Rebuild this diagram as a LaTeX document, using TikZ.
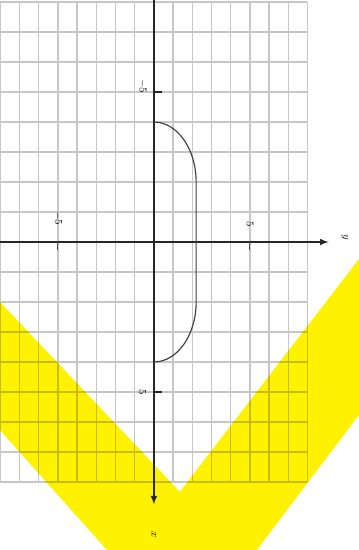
\documentclass[tikz,border=0pt]{standalone}
\begin{document}
\begin{tikzpicture}[x=0.576cm, y=0.9cm,
  gridline/.style={black!22, line width=1.2pt},
  axisline/.style={black!85, line width=1.5pt, -latex},
  ticklab/.style={font=\small, rotate=-90, inner sep=1pt}]
\useasboundingbox (-8.02,-10.27) rectangle (10.68,8.07);
% grid
\foreach \i in {-8,...,8} {
  \draw[gridline] (\i,-8) -- (\i,8);
  \draw[gridline] (-8,\i) -- (8,\i);
}
% yellow band
\begin{scope}[blend mode=multiply]
\fill[yellow] (-8.02,-2.0) -- (1.35,-8.33) -- (10.68,-0.57) -- (10.68,-5.77)
  -- (5.36,-10.27) -- (-2.45,-10.27) -- (-8.02,-6.27) -- cycle;
\end{scope}
% axes
\coordinate (xs) at (-8.02,0);
\coordinate (xe) at (9.1,0);
\coordinate (ys) at (0,8.07);
\coordinate (ye) at (0,-8.75);
\draw[axisline] (xs) -- (xe);
\draw[axisline] (ys) -- (ye);
\node[ticklab] (lx) at (9.95,0.15){$y$};
\node[ticklab] (ly) at (0,-9.75){$x$};
% ticks
\coordinate (t1) at (-5,0);
\coordinate (t2) at (5,0);
\coordinate (t3) at (0,5);
\coordinate (t4) at (0,-5);
\draw[black!70, line width=0.8pt] (t1) -- ++(0,-0.25);
\draw[black!70, line width=0.8pt] (t2) -- ++(0,-0.25);
\draw[black!85, line width=1.2pt] (t3) -- ++(0.42,0);
\draw[black!85, line width=1.2pt] (t4) -- ++(0.42,0);
\node[ticklab] (l1) at (-5,0.8){$-5$};
\node[ticklab] (l2) at (5,0.6){$5$};
\node[ticklab] (l3) at (-0.6,5.2){$-5$};
\node[ticklab] (l4) at (-0.6,-5){$5$};
% curve
\coordinate (c0) at (0,4);
\coordinate (c1) at (2.2,2);
\coordinate (c2) at (2.2,-2);
\coordinate (c3) at (0,-4);
\draw[black!75, line width=1pt] (c0) arc[start angle=90, end angle=0, x radius=2.2, y radius=2]
  -- (c2) arc[start angle=0, end angle=-90, x radius=2.2, y radius=2];
\end{tikzpicture}
\end{document}
